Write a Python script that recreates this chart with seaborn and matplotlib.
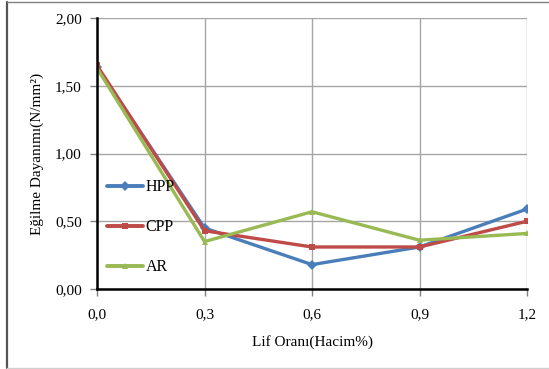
import matplotlib
matplotlib.use("Agg")
import matplotlib.pyplot as plt
from matplotlib.lines import Line2D
import seaborn as sns
import pandas as pd

lif_orani = [0.0, 0.3, 0.6, 0.9, 1.2]
hpp = [1.64, 0.45, 0.18, 0.31, 0.59]
cpp = [1.65, 0.43, 0.31, 0.31, 0.50]
ar = [1.63, 0.35, 0.57, 0.36, 0.41]
series_names = ["HPP", "CPP", "AR"]
x_tick_labels = ["0,0", "0,3", "0,6", "0,9", "1,2"]
y_ticks = [0.0, 0.5, 1.0, 1.5, 2.0]
y_tick_labels = ["0,00", "0,50", "1,00", "1,50", "2,00"]

df = pd.DataFrame({
    "Lif": lif_orani * 3,
    "Deger": hpp + cpp + ar,
    "Seri": [s for s in series_names for _ in lif_orani],
})

sns.set_theme(style="white")
plt.rcParams["font.family"] = ["Liberation Serif", "DejaVu Serif"]

fig = plt.figure(figsize=(5.49, 3.69), dpi=100)
W, H = 549, 369
ax = fig.add_axes([97 / W, (H - 289) / H, (527 - 97) / W, (289 - 18) / H])

palette = {"HPP": "#4A7EBB", "CPP": "#BE4B48", "AR": "#98B954"}
markers = {"HPP": "D", "CPP": "s", "AR": "^"}

sns.lineplot(data=df, x="Lif", y="Deger", hue="Seri", style="Seri",
             palette=palette, markers=markers, dashes=False,
             linewidth=2.4, markersize=5, markeredgewidth=0,
             ax=ax, legend=False, zorder=3)

ax.set_xlim(0, 1.2)
ax.set_ylim(0, 2.0)
ax.set_xticks(lif_orani)
ax.set_xticklabels(x_tick_labels)
ax.set_yticks(y_ticks)
ax.set_yticklabels(y_tick_labels)
ax.grid(True, color="#A6A6A6", linewidth=1.0)
ax.set_axisbelow(True)

for side in ["top", "right"]:
    ax.spines[side].set_visible(False)
for side in ["left", "bottom"]:
    ax.spines[side].set_color("black")
    ax.spines[side].set_linewidth(1.8)
    ax.spines[side].set_zorder(4)

ax.tick_params(axis="both", which="both", direction="out", length=5, width=1,
               color="#808080", labelsize=11, labelcolor="black",
               bottom=True, left=True, pad=6)
ax.tick_params(axis="x", pad=9)

ax.set_xlabel("Lif Oranı(Hacim%)", fontsize=11, labelpad=10, color="black")
ax.set_ylabel("Eğilme Dayanımı(N/mm²)", fontsize=11, labelpad=8, color="black")

handles = [Line2D([0], [0], color=palette[s], marker=markers[s], markersize=5,
                  markeredgewidth=0, linewidth=2.8) for s in series_names]
leg = ax.legend(handles, series_names, loc="upper left",
                bbox_to_anchor=(0.0, 0.44), frameon=False, fontsize=11.5,
                labelspacing=1.5, handlelength=2.3, handletextpad=0.15,
                borderaxespad=0.2)
for t in leg.get_texts():
    t.set_color("black")

# chart frame
fig.add_artist(Line2D([7 / W, 7 / W], [1 - 2 / H, 1 - 368 / H], color="#555555",
                      linewidth=1.6, transform=fig.transFigure))
fig.add_artist(Line2D([7 / W, 1.0], [1 - 2 / H, 1 - 2 / H], color="#808080",
                      linewidth=1.0, transform=fig.transFigure))
fig.add_artist(Line2D([7 / W, 1.0], [1 - 368 / H, 1 - 368 / H], color="#D0D0D0",
                      linewidth=1.0, transform=fig.transFigure))

fig.savefig("out.png", dpi=100, facecolor="white")
